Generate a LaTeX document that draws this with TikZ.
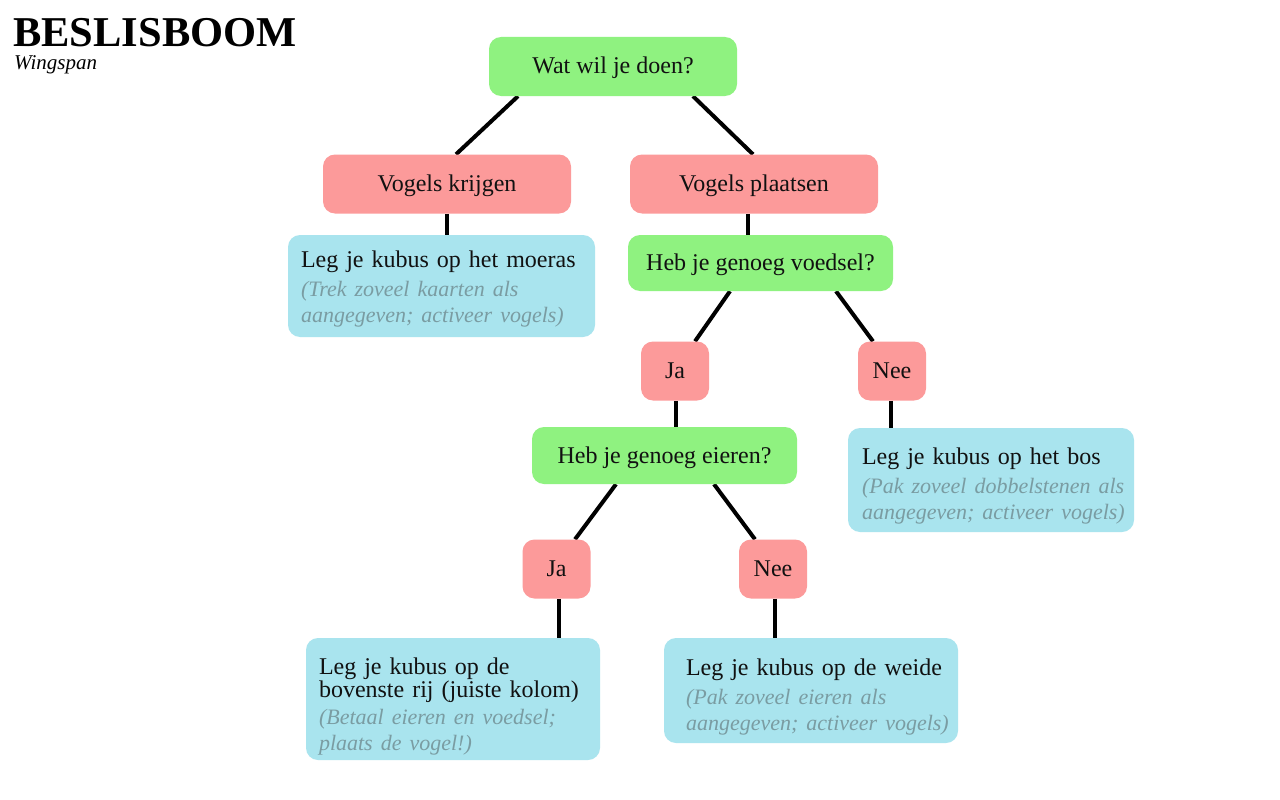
\documentclass[tikz,border=0pt]{standalone}
\usepackage{fontspec}
\setmainfont{Liberation Serif}
\usetikzlibrary{calc,backgrounds}
\definecolor{qgreen}{HTML}{8FF280}
\definecolor{qpink}{HTML}{FC9A9A}
\definecolor{qblue}{HTML}{A9E4EE}
\definecolor{qgray}{HTML}{7A9CA2}
\definecolor{qink}{HTML}{111111}
\tikzset{
  box/.style={rounded corners=12pt, inner sep=0pt, text=qink,
    font=\fontsize{24}{26}\selectfont, text height=20pt, text depth=5pt},
  qbox/.style={box, fill=qgreen},
  pbox/.style={box, fill=qpink},
  bbox/.style={rounded corners=12pt, inner sep=0pt, fill=qblue},
  btext/.style={anchor=north west, inner sep=0pt, align=left, text=qink,
    text width=280pt, font=\fontsize{24}{26}\selectfont},
  link/.style={line width=4pt, draw=black}
}
\newcommand{\gnote}[1]{{\color{qgray}\fontsize{22}{26}\selectfont\itshape #1}}
\newcommand{\fstrut}{\rule{0pt}{20pt}}
\begin{document}
\begin{tikzpicture}[x=1pt,y=-1pt]
\useasboundingbox (0,0) rectangle (1280,800);

\node[anchor=base west, font=\fontsize{42.5}{44}\selectfont\bfseries, inner sep=0pt, text depth=0pt] (title) at (13,46.5) {BESLISBOOM};
\node[anchor=base west, font=\fontsize{21}{22}\selectfont\itshape, inner sep=0pt, text height=13pt] (sub) at (14,70) {Wingspan};

\node[qbox, minimum width=248pt, minimum height=59pt] (wat) at (613,66.5) {Wat wil je doen?};
\node[pbox, minimum width=248pt, minimum height=59pt] (vk) at (447,184) {Vogels krijgen};
\node[pbox, minimum width=248pt, minimum height=59pt] (vp) at (754,184) {Vogels plaatsen};
\node[qbox, minimum width=265pt, minimum height=56pt] (voedsel) at (760.5,263) {Heb je genoeg voedsel?};
\node[pbox, minimum width=68pt, minimum height=59pt] (ja1) at (675,371) {Ja};
\node[pbox, minimum width=68pt, minimum height=59pt] (nee1) at (892,371) {Nee};
\node[qbox, minimum width=265pt, minimum height=57pt] (eieren) at (664.5,455.5) {Heb je genoeg eieren?};
\node[pbox, minimum width=68pt, minimum height=59pt] (ja2) at (556.5,569) {Ja};
\node[pbox, minimum width=68pt, minimum height=59pt] (nee2) at (773,569) {Nee};

\node[bbox, minimum width=307pt, minimum height=102pt] (moeras) at (441.5,286) {};
\node[btext] (moerast) at ($(moeras.north west)+(13,12)$)
  {\fstrut Leg je kubus op het moeras\\[3pt]\gnote{(Trek zoveel kaarten als\\aangegeven; activeer vogels)}};
\node[bbox, minimum width=286pt, minimum height=104pt] (bos) at (991,480) {};
\node[btext] (bost) at ($(bos.north west)+(14,16)$)
  {\fstrut Leg je kubus op het bos\\[3pt]\gnote{(Pak zoveel dobbelstenen als\\aangegeven; activeer vogels)}};
\node[bbox, minimum width=294pt, minimum height=122pt] (boven) at (453,699) {};
\node[btext] (boventx) at ($(boven.north west)+(13,16)$)
  {\fstrut Leg je kubus op de\\[-3pt]bovenste rij (juiste kolom)\\[1pt]\gnote{(Betaal eieren en voedsel;\\plaats de vogel!)}};
\node[bbox, minimum width=294pt, minimum height=105pt] (weide) at (811,690.5) {};
\node[btext] (weidet) at ($(weide.north west)+(22,17)$)
  {\fstrut Leg je kubus op de weide\\[3pt]\gnote{(Pak zoveel eieren als\\aangegeven; activeer vogels)}};

\begin{scope}[on background layer]
\fill[white] (0,0) rectangle (1280,800);
\draw[link] ($(wat.south)+(-95,0)$) -- ($(vk.north)+(9,0)$);
\draw[link] ($(wat.south)+(80,0)$) -- ($(vp.north)+(-1,0)$);
\draw[link] (vk.south) -- (vk.south |- moeras.north);
\draw[link] ($(vp.south)+(-6,0)$) coordinate (vpx) -- (vpx |- voedsel.north);
\draw[link] ($(voedsel.south)+(-30.5,0)$) -- ($(ja1.north)+(20,0)$);
\draw[link] ($(voedsel.south)+(75.5,0)$) -- ($(nee1.north)+(-19,0)$);
\draw[link] ($(ja1.south)+(1,0)$) coordinate (j1x) -- (j1x |- eieren.north);
\draw[link] ($(nee1.south)+(-1,0)$) coordinate (n1x) -- (n1x |- bos.north);
\draw[link] ($(eieren.south)+(-48.5,0)$) -- ($(ja2.north)+(18.5,0)$);
\draw[link] ($(eieren.south)+(49.5,0)$) -- ($(nee2.north)+(-18,0)$);
\draw[link] ($(ja2.south)+(2.5,0)$) coordinate (j2x) -- (j2x |- boven.north);
\draw[link] ($(nee2.south)+(2,0)$) coordinate (n2x) -- (n2x |- weide.north);
\end{scope}
\end{tikzpicture}
\end{document}
